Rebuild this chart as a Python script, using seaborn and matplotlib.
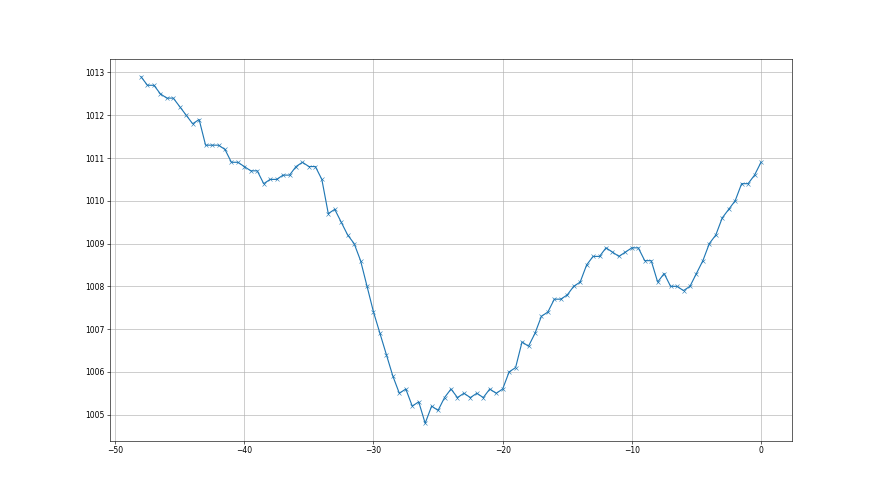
import matplotlib
matplotlib.use("Agg")
import matplotlib.pyplot as plt
import numpy as np
import pandas as pd
import seaborn as sns

hours = [-48 + 0.5 * i for i in range(97)]
pressure = [
    1012.9, 1012.7, 1012.7, 1012.5, 1012.4, 1012.4, 1012.2, 1012.0, 1011.8, 1011.9,
    1011.3, 1011.3, 1011.3, 1011.2, 1010.9, 1010.9, 1010.8, 1010.7, 1010.7, 1010.4,
    1010.5, 1010.5, 1010.6, 1010.6, 1010.8, 1010.9, 1010.8, 1010.8, 1010.5, 1009.7,
    1009.8, 1009.5, 1009.2, 1009.0, 1008.6, 1008.0, 1007.4, 1006.9, 1006.4, 1005.9,
    1005.5, 1005.6, 1005.2, 1005.3, 1004.8, 1005.2, 1005.1, 1005.4, 1005.6, 1005.4,
    1005.5, 1005.4, 1005.5, 1005.4, 1005.6, 1005.5, 1005.6, 1006.0, 1006.1, 1006.7,
    1006.6, 1006.9, 1007.3, 1007.4, 1007.7, 1007.7, 1007.8, 1008.0, 1008.1, 1008.5,
    1008.7, 1008.7, 1008.9, 1008.8, 1008.7, 1008.8, 1008.9, 1008.9, 1008.6, 1008.6,
    1008.1, 1008.3, 1008.0, 1008.0, 1007.9, 1008.0, 1008.3, 1008.6, 1009.0, 1009.2,
    1009.6, 1009.8, 1010.0, 1010.4, 1010.4, 1010.6, 1010.9,
]

df = pd.DataFrame({"hours": hours, "pressure": pressure})

fig, ax = plt.subplots(figsize=(16, 9), dpi=55)
sns.lineplot(data=df, x="hours", y="pressure", marker="x", color="#1f77b4",
             markeredgecolor="#1f77b4", linewidth=1.5, markersize=6, ax=ax)
ax.set_xlabel("")
ax.set_ylabel("")
ax.grid(True, color="#b0b0b0", linewidth=0.8)
ax.set_axisbelow(True)
fig.savefig("out.png", dpi=55)
